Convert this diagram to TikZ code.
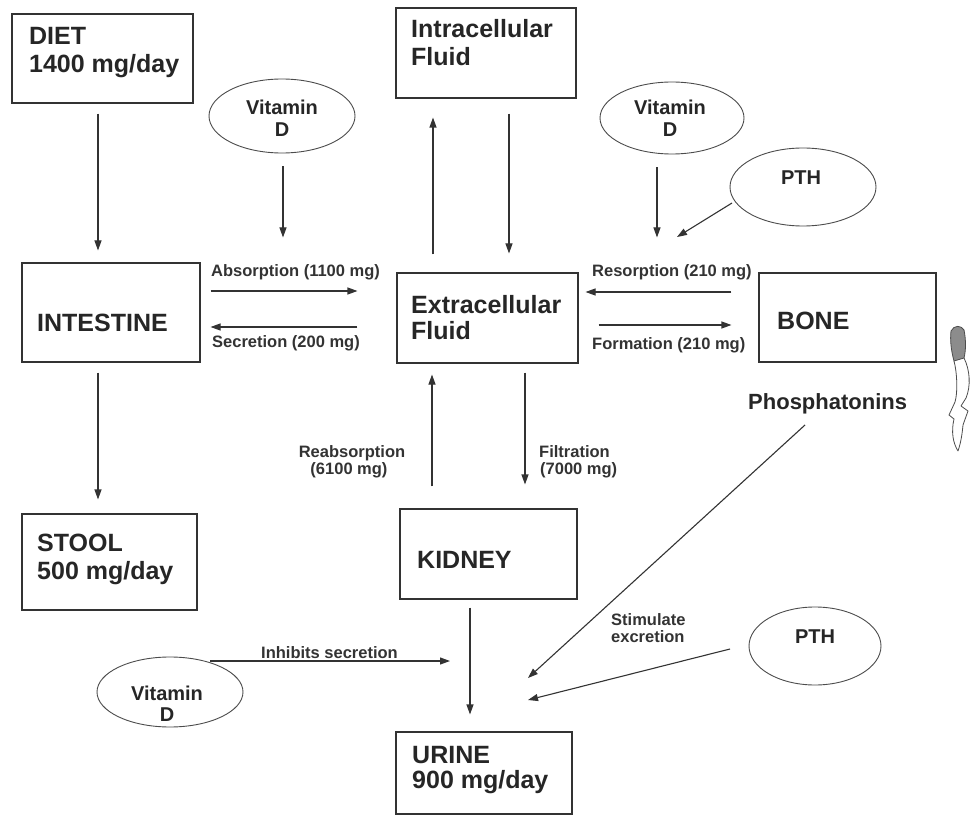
\documentclass[tikz,border=0pt]{standalone}
\usepackage{fontspec}
\setmainfont{Liberation Sans}
\usetikzlibrary{arrows.meta,calc,shapes.geometric}
\begin{document}
\begin{tikzpicture}[x=1pt,y=-1pt,
  box/.style={draw=black!80, line width=1.1pt, rectangle, inner sep=0pt},
  oval/.style={draw=black!70, line width=0.9pt, ellipse, inner sep=0pt},
  big/.style={font=\fontsize{25}{28}\selectfont\bfseries, text=black!85, inner sep=0pt, anchor=base west},
  mid/.style={font=\fontsize{20}{22}\selectfont\bfseries, text=black!85, inner sep=0pt, anchor=base},
  small/.style={font=\fontsize{16.5}{17}\selectfont\bfseries, text=black!80, inner sep=0pt, anchor=base west},
  arr/.style={draw=black!80, line width=1.1pt, -{Triangle[length=10pt,width=7pt]}},
]
\fill[white] (0,0) rectangle (970,821);
\useasboundingbox (0,0) rectangle (970,821);

% boxes
\node[box, minimum width=181pt, minimum height=89pt] (diet) at (102.5,58.5) {};
\node[box, minimum width=180pt, minimum height=90pt] (intra) at (486,53) {};
\node[box, minimum width=178pt, minimum height=99pt] (intestine) at (111,312.5) {};
\node[box, minimum width=181pt, minimum height=90pt] (extra) at (487.5,318) {};
\node[box, minimum width=177pt, minimum height=89pt] (bone) at (847.5,317.5) {};
\node[box, minimum width=175pt, minimum height=96pt] (stool) at (109.5,562) {};
\node[box, minimum width=177pt, minimum height=90pt] (kidney) at (488.5,554) {};
\node[box, minimum width=176pt, minimum height=82pt] (urine) at (484,773) {};

% box texts
\node[big] (tdiet1) at (29,45) {DIET};
\node[big] (tdiet2) at (29,73) {1400 mg/day};
\node[big] (tintra1) at (411,38) {Intracellular};
\node[big] (tintra2) at (411,66) {Fluid};
\node[big] (tintest) at (37,331) {INTESTINE};
\node[big] (textra1) at (411,314) {Extracellular};
\node[big] (textra2) at (411,339) {Fluid};
\node[big] (tbone) at (777,330) {BONE};
\node[big] (tstool1) at (37,551) {STOOL};
\node[big] (tstool2) at (37,579) {500 mg/day};
\node[big] (tkidney) at (417,568) {KIDNEY};
\node[big] (turine1) at (412,763) {URINE};
\node[big] (turine2) at (412,788) {900 mg/day};

% ellipses
\node[oval, minimum width=146pt, minimum height=74pt] (vd1) at (282,116) {};
\node[oval, minimum width=144pt, minimum height=72pt] (vd2) at (672,118) {};
\node[oval, minimum width=146pt, minimum height=78pt] (pth1) at (803,187) {};
\node[oval, minimum width=146pt, minimum height=70pt] (vd3) at (170,692) {};
\node[oval, minimum width=132pt, minimum height=78pt] (pth2) at (815,646) {};

\node[mid] (tvd1a) at (282,115) {Vitamin};
\node[mid] (tvd1b) at (282,137) {D};
\node[mid] (tvd2a) at (670,115) {Vitamin};
\node[mid] (tvd2b) at (670,137) {D};
\node[mid] (tpth1) at (801,185) {PTH};
\node[mid] (tvd3a) at (167,700) {Vitamin};
\node[mid] (tvd3b) at (167,721) {D};
\node[mid] (tpth2) at (815,643) {PTH};

% phosphatonins
\node[font=\fontsize{22}{24}\selectfont\bfseries, text=black!85, inner sep=0pt, anchor=base west] (phos) at (748,409) {Phosphatonins};

% labels
\node[small] (labs) at (211,277) {Absorption (1100 mg)};
\node[small] (lsec) at (212,348) {Secretion (200 mg)};
\node[small] (lres) at (592,277) {Resorption (210 mg)};
\node[small] (lform) at (592,349) {Formation (210 mg)};
\node[small, anchor=base] (lreab1) at (352,457) {Reabsorption};
\node[small, anchor=base] (lreab2) at (349,474) {(6100 mg)};
\node[small] (lfilt1) at (539,457) {Filtration};
\node[small] (lfilt2) at (540,474) {(7000 mg)};
\node[small] (linh) at (261,658) {Inhibits secretion};
\node[small] (lstim1) at (611,625) {Stimulate};
\node[small] (lstim2) at (611,642) {excretion};

% connectors
\draw[arr, shorten <=10pt, shorten >=12pt] (diet.south -| 98,0) -- (intestine.north -| 98,0);
\draw[arr, shorten <=13pt, shorten >=35pt] (vd1.south -| 283,0) -- (extra.north -| 283,0);
\draw[arr, shorten <=10pt, shorten >=39pt] (intestine.east |- 0,291) -- (extra.west |- 0,291);
\draw[arr, shorten <=39pt, shorten >=10pt] (extra.west |- 0,327) -- (intestine.east |- 0,327);
\draw[arr, shorten <=18pt, shorten >=19pt] (extra.north -| 433,0) -- (intra.south -| 433,0);
\draw[arr, shorten <=15pt, shorten >=19pt] (intra.south -| 509,0) -- (extra.north -| 509,0);
\draw[arr, shorten <=13pt, shorten >=35pt] (vd2.south -| 657,0) -- (bone.north -| 657,0);
\coordinate (p1s) at (732,203);
\coordinate (p1e) at (677,237);
\draw[arr] (p1s) -- (p1e);
\draw[arr, shorten <=27pt, shorten >=7pt] (bone.west |- 0,292) -- (extra.east |- 0,292);
\draw[arr, shorten <=20pt, shorten >=27pt] (extra.east |- 0,325) -- (bone.west |- 0,325);
\draw[arr, shorten <=10pt, shorten >=14pt] (intestine.south -| 98,0) -- (stool.north -| 98,0);
\draw[arr, shorten <=22pt, shorten >=11pt] (kidney.north -| 432,0) -- (extra.south -| 432,0);
\draw[arr, shorten <=9pt, shorten >=24pt] (extra.south -| 525,0) -- (kidney.north -| 525,0);
\draw[arr, shorten <=8pt, shorten >=17pt] (kidney.south -| 470,0) -- (urine.north -| 470,0);
\coordinate (v3s) at (210,661);
\coordinate (v3e) at (450,661);
\draw[arr] (v3s) -- (v3e);
\coordinate (ph1) at (805,425);
\coordinate (ph2) at (528,678);
\draw[arr] (ph1) -- (ph2);
\coordinate (pt2s) at (730,649);
\coordinate (pt2e) at (528,700);
\draw[arr] (pt2s) -- (pt2e);

% curly arrow at right
\fill[black!45] (951,331) .. controls (954,325) and (961,325) .. (964,330)
  .. controls (966,340) and (966,350) .. (964,358) -- (954,361)
  .. controls (951,350) and (950,340) .. (951,331) -- cycle;
\draw[black!70, line width=0.8pt] (951,331) .. controls (954,325) and (961,325) .. (964,330)
  .. controls (966,340) and (966,350) .. (964,358) -- (954,361)
  .. controls (951,350) and (950,340) .. (951,331) -- cycle;
\draw[black!70, line width=0.8pt, line join=round]
  (964,358) .. controls (970,370) and (971,386) .. (966,398)
  -- (961,406) -- (968,411) -- (963,425) .. controls (962,435) and (961,442) .. (958,451)
  .. controls (953,443) and (951,432) .. (954,419) -- (949,415) -- (955,402)
  .. controls (958,392) and (957,372) .. (954,361);
\end{tikzpicture}
\end{document}
